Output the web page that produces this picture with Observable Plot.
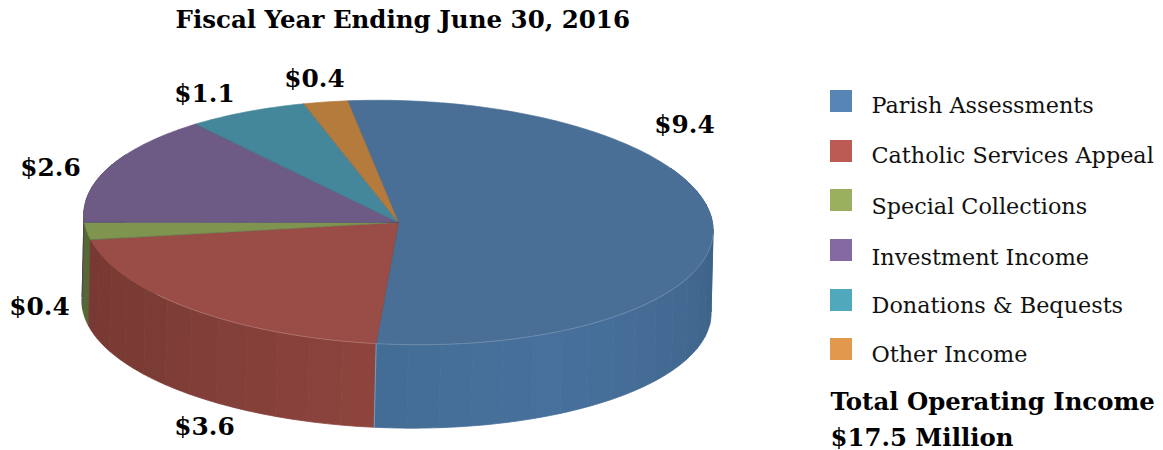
<!DOCTYPE html>
<html><head><meta charset="utf-8">
<script src="https://cdn.jsdelivr.net/npm/d3@7"></script>
<script src="https://cdn.jsdelivr.net/npm/@observablehq/plot@0.6"></script>
<style>html,body{margin:0;padding:0;background:#fff}svg{display:block}</style>
</head><body><div id="chart"></div>
<script>
const categories = ["Parish Assessments","Catholic Services Appeal","Special Collections","Investment Income","Donations & Bequests","Other Income"];
const values = [9.4,3.6,0.4,2.6,1.1,0.4];
const legendColors = ["#5785b6","#bc5b54","#9bb05e","#8469a2","#4fa8bc","#e2984d"];
const topColors = ["#4a6f96","#9a4d47","#7f954f","#6d5a85","#44879a","#b57b3d"];
const wallColors = ["#47719c","#944740","#6b8244","#5f4e74","#3b7686","#9c6a34"];
const chartTitle = "Fiscal Year Ending June 30, 2016";
const totalLines = ["Total Operating Income","$17.5 Million"];

// layout
const topE = {cx:398, cy:222, rx:314.6, ry:122, k:8};
const botE = {cx:396, cy:306.5, rx:314.6, ry:121, k:6};
const startAngle = 350.7;
const labelPos = [[684,125],[204,427],[39,307],[50,168],[204,94],[314,79]];
const legendX = 830, legendTextX = 871, sw = 22;
const swatchTops = [90,140,189,239,289,338];
const legendTextY = [105.5,155.5,206.5,257.5,305.5,354.5];
const serif = "'DejaVu Serif', serif";

const total = d3.sum(values);
const pt = (e,a) => { const r = a*Math.PI/180; return {x:e.cx+e.rx*Math.sin(r), y:e.cy-e.ry*Math.cos(r)+e.k*Math.sin(r)}; };
const arc = (e,a0,a1,step=1) => { const n = Math.max(1,Math.ceil((a1-a0)/step)); return d3.range(n+1).map(i=>pt(e,a0+(a1-a0)*i/n)); };
let acc = startAngle;
const slices = values.map((v,i)=>{ const a0=acc, a1=acc+v/total*360; acc=a1; return {i,a0,a1}; });

const shade = d3.scaleLinear().domain([90,150,184,230,262,300]).range([.87,1,.96,.84,.8,.8]).clamp(true);
const darken = (c,f)=>{const o=d3.rgb(c);return d3.rgb(o.r*f,o.g*f,o.b*f).formatHex();};

// wall bands, painted from the back towards the front
const bands = [];
slices.forEach(s=>{
  for (const off of [-360,0,360]) {
    const lo=Math.max(s.a0+off,60), hi=Math.min(s.a1+off,300);
    if (hi<=lo) continue;
    const n=Math.max(1,Math.round((hi-lo)/6));
    for(let k=0;k<n;k++){
      const a=lo+(hi-lo)*k/n, b=lo+(hi-lo)*(k+1)/n;
      bands.push({a,b,i:s.i});
    }
  }
});
bands.sort((p,q)=>Math.abs((q.a+q.b)/2-180)-Math.abs((p.a+p.b)/2-180));

const marks = [];
bands.forEach(({a,b,i})=>{
  const poly=[...arc(topE,a,b),...arc(botE,a,b).reverse()];
  poly.push(poly[0]);
  const c=darken(wallColors[i],shade((a+b)/2));
  marks.push(Plot.line(poly,{x:"x",y:"y",fill:c,stroke:c,strokeWidth:0.8}));
});
// light seam on wall between blue and red
const seamA = slices[1].a0;
marks.push(Plot.line([pt(topE,seamA),pt(botE,seamA)],{x:"x",y:"y",stroke:"#fff",strokeOpacity:0.3,strokeWidth:1}));
// top faces
slices.forEach(s=>{
  const poly=[{x:topE.cx,y:topE.cy},...arc(topE,s.a0,s.a1)];
  poly.push(poly[0]);
  marks.push(Plot.line(poly,{x:"x",y:"y",fill:topColors[s.i],stroke:topColors[s.i],strokeWidth:0.6}));
});
// slice edges and front rim
slices.forEach(s=>{
  marks.push(Plot.line([{x:topE.cx,y:topE.cy},pt(topE,s.a0)],{x:"x",y:"y",stroke:"#22384f",strokeOpacity:0.2,strokeWidth:1}));
});
marks.push(Plot.line(arc(topE,92,230),{x:"x",y:"y",stroke:"#fff",strokeOpacity:0.18,strokeWidth:1}));

// value labels
marks.push(Plot.text(values,{x:(d,i)=>labelPos[i][0],y:(d,i)=>labelPos[i][1],text:d=>"$"+d.toFixed(1),fontFamily:serif,fontWeight:"bold",fontSize:24.8,fill:"#000"}));
// title
marks.push(Plot.text([chartTitle],{x:()=>175,y:()=>20,text:d=>d,textAnchor:"start",fontFamily:serif,fontWeight:"bold",fontSize:24.5,fill:"#000"}));
// legend
marks.push(Plot.rect(categories,{x1:()=>legendX,x2:()=>legendX+sw,y1:(d,i)=>swatchTops[i],y2:(d,i)=>swatchTops[i]+sw,fill:(d,i)=>legendColors[i]}));
marks.push(Plot.text(categories,{x:()=>legendTextX,y:(d,i)=>legendTextY[i],text:d=>d,textAnchor:"start",fontFamily:serif,fontSize:22.3,fill:"#111"}));
marks.push(Plot.text(totalLines,{x:()=>legendX,y:(d,i)=>402+i*36,text:d=>d,textAnchor:"start",fontFamily:serif,fontWeight:"bold",fontSize:24.4,fill:"#000"}));

const chart = Plot.plot({
  width:1163,height:450,margin:0,
  x:{domain:[0,1163],axis:null},
  y:{domain:[450,0],axis:null},
  style:{background:"#fff",overflow:"visible"},
  marks
});
document.getElementById("chart").append(chart);
</script>
</body></html>
